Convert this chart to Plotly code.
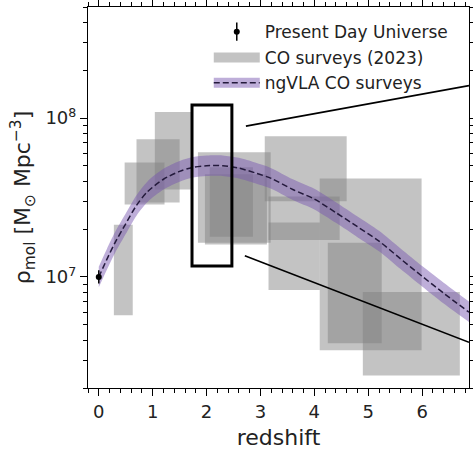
import plotly.graph_objects as go

# ---- data ----
# ngVLA model curve (redshift, rho_mol) and its band
curve_z = [0.0, 0.15, 0.3, 0.5, 0.7, 0.9, 1.2, 1.5, 1.75, 2.0, 2.3, 2.6, 2.9, 3.2,
           3.6, 4.0, 4.4, 4.8, 5.2, 5.6, 6.0, 6.4, 6.87]
curve_rho = [1.00e7, 1.29e7, 1.64e7, 2.16e7, 2.82e7, 3.43e7, 4.12e7, 4.62e7, 4.90e7,
             5.01e7, 5.01e7, 4.84e7, 4.52e7, 4.17e7, 3.55e7, 3.09e7, 2.54e7, 2.07e7,
             1.68e7, 1.30e7, 1.01e7, 7.9e6, 6.0e6]
band_hi = [1.16e7, 1.50e7, 1.91e7, 2.51e7, 3.27e7, 3.98e7, 4.79e7, 5.37e7, 5.69e7,
           5.82e7, 5.82e7, 5.62e7, 5.25e7, 4.84e7, 4.12e7, 3.59e7, 2.95e7, 2.40e7,
           1.95e7, 1.51e7, 1.17e7, 9.2e6, 7.0e6]
band_lo = [8.6e6, 1.11e7, 1.41e7, 1.86e7, 2.43e7, 2.95e7, 3.55e7, 3.98e7, 4.22e7,
           4.32e7, 4.32e7, 4.17e7, 3.89e7, 3.59e7, 3.05e7, 2.66e7, 2.19e7, 1.78e7,
           1.45e7, 1.12e7, 8.7e6, 6.8e6, 5.2e6]

# CO surveys (2023): redshift bins and rho_mol ranges
box_z_lo = [0.28, 0.48, 0.70, 1.04, 1.84, 1.97, 2.06, 3.08, 3.15, 3.15, 4.10, 4.25, 4.90]
box_z_hi = [0.63, 1.22, 1.50, 1.72, 3.19, 3.12, 2.86, 4.60, 4.47, 4.10, 5.99, 5.25, 6.70]
box_rho_lo = [5.75e6, 2.86e7, 2.94e7, 3.55e7, 1.64e7, 1.60e7, 1.79e7, 2.99e7, 1.71e7,
              8.28e6, 3.45e6, 3.82e6, 2.40e6]
box_rho_hi = [2.13e7, 5.25e7, 7.36e7, 1.09e8, 6.10e7, 4.43e7, 4.90e7, 7.69e7, 3.21e7,
              2.20e7, 4.17e7, 1.64e7, 8.03e6]

# Present day universe
z0 = [0.0]
rho0 = [1.0e7]
rho0_err_up = [1.0e6]
rho0_err_dn = [0.9e6]

# highlighted window and zoom lines
win_z = [1.73, 2.47]
win_rho = [1.17e7, 1.21e8]
zoom_line1_z = [2.73, 6.87]
zoom_line1_rho = [8.9e7, 1.6e8]
zoom_line2_z = [2.71, 6.87]
zoom_line2_rho = [1.36e7, 3.88e6]

y_tickvals = [1e7, 1e8]
y_ticktext = ["10<sup>7</sup>", "10<sup>8</sup>"]
x_tickvals = [0, 1, 2, 3, 4, 5, 6]

legend_names = ["Present Day Universe", "CO surveys (2023)", "ngVLA CO surveys"]

FONT = "DejaVu Sans"
GRAY = "rgba(128,128,128,0.47)"
PURPLE = "rgba(120,85,175,0.48)"
DASHC = "#241a3c"

fig = go.Figure()

# survey boxes
for i in range(len(box_z_lo)):
    fig.add_trace(go.Scatter(
        x=[box_z_lo[i], box_z_hi[i], box_z_hi[i], box_z_lo[i], box_z_lo[i]],
        y=[box_rho_lo[i], box_rho_lo[i], box_rho_hi[i], box_rho_hi[i], box_rho_lo[i]],
        mode="lines", fill="toself", fillcolor=GRAY, line=dict(width=0),
        showlegend=False, hoverinfo="skip"))

# ngVLA band
fig.add_trace(go.Scatter(x=curve_z, y=band_hi, mode="lines",
                         line=dict(width=0, shape="spline", smoothing=0.8),
                         showlegend=False, hoverinfo="skip"))
fig.add_trace(go.Scatter(x=curve_z, y=band_lo, mode="lines",
                         line=dict(width=0, shape="spline", smoothing=0.8),
                         fill="tonexty", fillcolor=PURPLE, showlegend=False,
                         hoverinfo="skip"))
# dashed curve
fig.add_trace(go.Scatter(x=curve_z, y=curve_rho, mode="lines",
                         line=dict(color=DASHC, width=1.5, dash="6px,3px",
                                   shape="spline", smoothing=0.8),
                         showlegend=False))

# present-day point
fig.add_trace(go.Scatter(x=z0, y=rho0, mode="markers",
                         marker=dict(color="black", size=6),
                         error_y=dict(type="data", array=rho0_err_up,
                                      arrayminus=rho0_err_dn, color="black",
                                      thickness=1.5, width=0),
                         name=legend_names[0], legend="legend"))

# legend proxies (overlaid legends to build composite symbols)
fig.add_trace(go.Scatter(x=[None], y=[None], mode="markers",
                         marker=dict(symbol="line-ns-open", size=13, color="black",
                                     line=dict(color="black", width=1.5)),
                         name=" ", legend="legend4"))
fig.add_trace(go.Scatter(x=[None], y=[None], mode="lines",
                         line=dict(color=GRAY, width=12),
                         name=legend_names[1], legend="legend2"))
fig.add_trace(go.Scatter(x=[None], y=[None], mode="lines",
                         line=dict(color=PURPLE, width=12),
                         name=legend_names[2], legend="legend3"))
fig.add_trace(go.Scatter(x=[None], y=[None], mode="lines",
                         line=dict(color=DASHC, width=1.5, dash="6px,3px"),
                         name=" ", legend="legend5"))

# highlight window and zoom lines
fig.add_shape(type="rect", xref="x", yref="y", x0=win_z[0], x1=win_z[1],
              y0=win_rho[0], y1=win_rho[1], line=dict(color="black", width=3),
              layer="above")
fig.add_shape(type="line", xref="x", yref="y", x0=zoom_line1_z[0], x1=zoom_line1_z[1],
              y0=zoom_line1_rho[0], y1=zoom_line1_rho[1],
              line=dict(color="black", width=1.6))
fig.add_shape(type="line", xref="x", yref="y", x0=zoom_line2_z[0], x1=zoom_line2_z[1],
              y0=zoom_line2_rho[0], y1=zoom_line2_rho[1],
              line=dict(color="black", width=1.6))

minor_y = [v * 10 ** e for e in (6, 7, 8) for v in range(2, 10)]
minor_y = [v for v in minor_y if 2e6 <= v <= 5e8 and v not in (1e7, 1e8)]

LX = 0.317
row_y = [0.934, 0.866, 0.800]


def leg(y):
    return dict(x=LX, y=y, xanchor="left", yanchor="middle", itemwidth=46,
                bgcolor="rgba(0,0,0,0)", font=dict(size=17, color="#222"))


fig.update_layout(
    width=473, height=450,
    margin=dict(l=88, r=4, t=7, b=62),
    paper_bgcolor="white", plot_bgcolor="white",
    font=dict(family=FONT, size=18, color="#222"),
    showlegend=True,
    legend=leg(row_y[0]),
    legend4=leg(row_y[0]),
    legend2=leg(row_y[1]),
    legend3=leg(row_y[2]),
    legend5=leg(row_y[2]),
    xaxis=dict(range=[-0.2, 6.87], tickvals=x_tickvals, showgrid=False,
               zeroline=False, showline=True, linecolor="black", linewidth=1.2,
               mirror="allticks", ticks="outside", ticklen=7, tickwidth=1.2,
               tickcolor="black", automargin=False,
               minor=dict(dtick=0.2, tick0=0, ticks="outside", ticklen=4,
                          tickcolor="black", showgrid=False),
               title=dict(text="redshift", font=dict(size=22), standoff=10)),
    yaxis=dict(type="log", range=[6.301, 8.699], tickvals=y_tickvals,
               ticktext=y_ticktext, showgrid=False, zeroline=False,
               showline=True, linecolor="black", linewidth=1.2,
               mirror="allticks", ticks="outside", ticklen=7, tickwidth=1.2,
               tickcolor="black", automargin=False,
               minor=dict(tickvals=minor_y, ticks="outside", ticklen=4,
                          tickcolor="black", showgrid=False),
               title=dict(text="ρ<sub>mol</sub> [M<sub>⊙</sub> Mpc<sup>−3</sup>]",
                          font=dict(size=22), standoff=8)),
)

fig.write_html("out.html", config={"displayModeBar": False},
               post_script="document.body.style.margin='0';"
                           "document.body.style.overflow='hidden';")
